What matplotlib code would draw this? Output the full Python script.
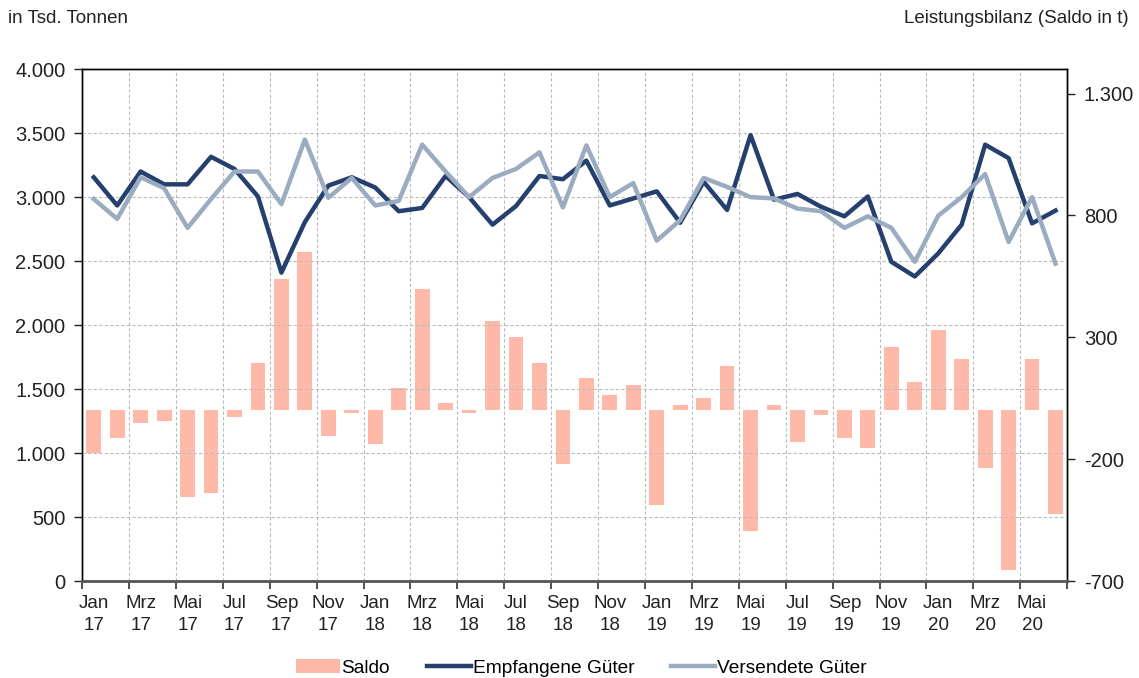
import matplotlib
matplotlib.use("Agg")
import matplotlib.pyplot as plt
import matplotlib.ticker as mticker
from matplotlib.patches import Patch
from matplotlib.lines import Line2D
import numpy as np

plt.rcParams["font.family"] = ["Liberation Sans", "DejaVu Sans"]

# Monatswerte Jan 2017 - Jun 2020
months = ["Jan", "Feb", "Mrz", "Apr", "Mai", "Jun", "Jul", "Aug", "Sep", "Okt", "Nov", "Dez"]
years = ["17", "18", "19", "20"]

empfangen = [3155, 2935, 3200, 3100, 3100, 3315, 3220, 3005, 2410, 2805, 3090, 3155,
             3075, 2890, 2915, 3165, 3000, 2785, 2930, 3165, 3140, 3285, 2935, 2990,
             3045, 2800, 3120, 2900, 3485, 2980, 3025, 2925, 2850, 3005, 2495, 2380,
             2560, 2785, 3410, 3305, 2795, 2895]

versendet = [2985, 2830, 3155, 3070, 2760, 2985, 3200, 3200, 2945, 3450, 2995, 3150,
             2935, 2970, 3410, 3200, 3000, 3150, 3220, 3350, 2920, 3405, 3000, 3110,
             2660, 2820, 3150, 3080, 3000, 2990, 2910, 2890, 2760, 2850, 2760, 2495,
             2855, 3000, 3180, 2650, 3000, 2480]

saldo = [-176, -115, -53, -43, -355, -340, -26, 195, 540, 650, -105, -12,
         -138, 92, 498, 32, -11, 365, 300, 195, -220, 135, 63, 104,
         -388, 23, 50, 184, -495, 23, -128, -20, -115, -156, 259, 115,
         330, 211, -235, -655, 211, -424]

x = np.arange(len(saldo))
labels = [f"{months[i % 12]}\n{years[i // 12]}" for i in range(len(saldo))]

c_bar = "#FFB9A9"
c_emp = "#253F6E"
c_ver = "#9BABC0"

fig = plt.figure(figsize=(11.39, 6.78), dpi=100)
ax = fig.add_axes([0.072, 0.143, 0.865, 0.755])
ax2 = ax.twinx()

# Balken (rechte Achse)
ax2.bar(x, saldo, width=0.63, color=c_bar, zorder=2)
ax2.set_ylim(-700, 1400)
ax2.set_yticks([-700, -200, 300, 800, 1300])

# Linien (linke Achse), vor den Balken
ax.plot(x, empfangen, color=c_emp, lw=3.2, zorder=3)
ax.plot(x, versendet, color=c_ver, lw=3.2, zorder=3)
ax.set_ylim(0, 4000)
ax.set_yticks(np.arange(0, 4001, 500))
ax.set_zorder(ax2.get_zorder() + 1)
ax.patch.set_visible(False)

fmt = mticker.FuncFormatter(lambda v, p: f"{v:,.0f}".replace(",", "."))
ax.yaxis.set_major_formatter(fmt)
ax2.yaxis.set_major_formatter(fmt)

ax.set_xlim(-0.5, len(saldo) - 0.5)
ax.set_xticks(np.arange(-0.5, len(saldo), 2))
ax.set_xticklabels([])
ax.set_xticks(x[::2], minor=True)
ax.set_xticklabels(labels[::2], minor=True, fontsize=13.5, color="#222222", linespacing=1.4)
ax.tick_params(axis="x", which="minor", length=0, pad=10)
ax.tick_params(axis="x", which="major", length=6, width=1.2, direction="out", color="#333333")
ax.tick_params(axis="y", length=6, width=1, labelsize=14.5, colors="#222222", pad=6)
ax2.tick_params(axis="y", length=6, width=1, labelsize=14.5, colors="#222222", pad=6)

ax.grid(True, which="major", color="#bbbbbb", linestyle=(0, (3, 2)), linewidth=0.8)

for a in (ax, ax2):
    for s in a.spines.values():
        s.set_color("black")
        s.set_linewidth(1)
ax.spines["bottom"].set_color("#555555")
ax.spines["bottom"].set_linewidth(2)
ax2.spines["bottom"].set_visible(False)

fig.text(0.007, 0.973, "in Tsd. Tonnen", fontsize=13.5, color="#222222", ha="left", va="center")
fig.text(0.991, 0.973, "Leistungsbilanz (Saldo in t)", fontsize=13.5, color="#222222",
         ha="right", va="center")

handles = [Patch(facecolor=c_bar, edgecolor="none"),
           Line2D([], [], color=c_emp, lw=3.2),
           Line2D([], [], color=c_ver, lw=3.2)]
fig.legend(handles, ["Saldo", "Empfangene Güter", "Versendete Güter"], loc="center",
           bbox_to_anchor=(0.51, 0.015), ncol=3, frameon=False, fontsize=13.8,
           handlelength=2.3, handletextpad=0.1, columnspacing=1.9)

fig.savefig("out.png", dpi=100)
